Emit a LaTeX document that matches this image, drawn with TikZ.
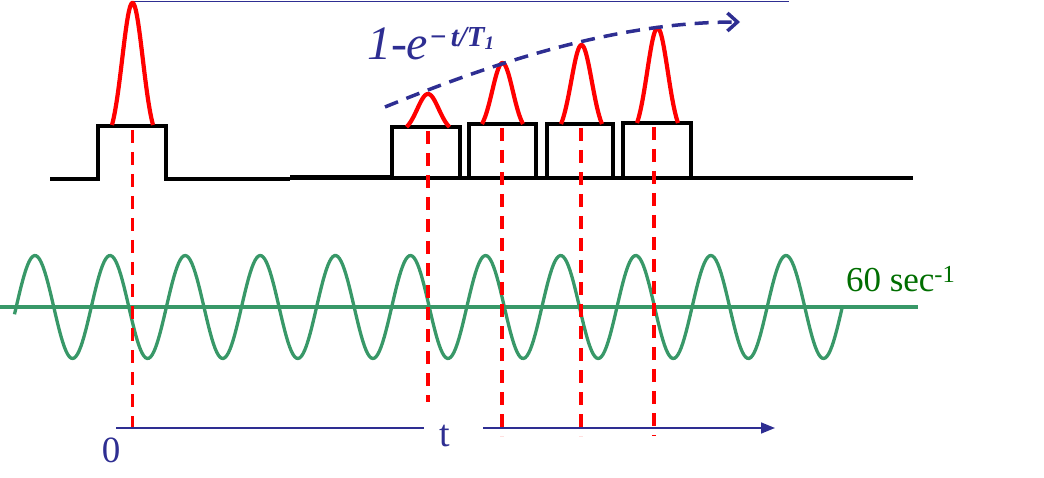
\documentclass[tikz,border=0pt]{standalone}
\usepackage{fontspec}
\setmainfont{Liberation Serif}
\usetikzlibrary{arrows.meta}
\definecolor{navy}{RGB}{46,46,146}
\definecolor{sinegreen}{RGB}{56,152,104}
\definecolor{labelgreen}{RGB}{0,110,0}
\newcommand\rfpulse[4]{% center x, base y, height, half width
  \draw[pulse] plot[domain=-#4:#4, samples=60, smooth]
    ({#1+\x}, {#2 - #3*(exp(-2*\x*\x/(#4*#4)) - exp(-2))/(1-exp(-2))});}
\begin{document}
\begin{tikzpicture}[x=1pt,y=-1pt,
  gate/.style={line width=4pt, black, line join=miter, line cap=butt},
  pulse/.style={line width=4.2pt, red},
  marker/.style={line width=3.2pt, red, dash pattern=on 13pt off 9pt},
  envelope/.style={line width=3.5pt, navy, dash pattern=on 14pt off 9pt,
    -{Straight Barb[length=10pt,width=18pt,line width=3.5pt]}},
  wave/.style={line width=3.3pt, sinegreen},
  axis/.style={line width=1.6pt, navy},
  lbl/.style={inner sep=0pt, outer sep=0pt}]
\useasboundingbox (0,0) rectangle (1044,478);

% top reference line
\coordinate (topL) at (132,1.5);
\coordinate (topR) at (789,1.5);
\draw[axis, line width=1.4pt] (topL) -- (topR);

% gate / baseline
\draw[gate] (50,179) -- (98,179) -- (98,126) -- (166,126) -- (166,179) -- (290,179);
\draw[gate, line width=5pt] (290,177.5) -- (392,177.5);
\draw[gate] (392,178) -- (913,178);
\draw[gate] (392,178) rectangle (460,127);
\draw[gate] (469,178) rectangle (536,124);
\draw[gate] (547,178) rectangle (613,124);
\draw[gate] (623,178) rectangle (691,123);

% RF pulses
\rfpulse{132.5}{125}{122}{20.5}
\rfpulse{428}{127}{33}{21.5}
\rfpulse{502.5}{124}{61}{20.5}
\rfpulse{581.5}{124}{79}{20.5}
\rfpulse{657.5}{123}{95}{20.5}

% envelope 1-exp(-t/T1)
\coordinate (envS) at (385,107);
\coordinate (envE) at (740,22);
\draw[envelope] (envS) .. controls (500,60) and (620,22) .. (envE);
\node[lbl, anchor=base west, navy] (eq) at (367,60)
  {{\fontsize{48}{48}\selectfont\itshape 1-e}{\fontsize{29}{29}\selectfont\bfseries\itshape\raisebox{13pt}{\kern1pt\char"2212\kern4pt t/T}}{\fontsize{19}{19}\selectfont\bfseries\itshape\raisebox{10pt}{\kern0pt 1}}};

% 60 Hz sine
\coordinate (hL) at (0,307);
\coordinate (hR) at (918,307);
\draw[wave] (hL) -- (hR);
\draw[wave] plot[domain=14.5:842, samples=500] (\x, {307 - 51.5*sin(4.79361*(\x-16.2))});
\node[lbl, anchor=base west, labelgreen, font=\fontsize{35}{35}\selectfont] (freq) at (846,292) {60 sec\textsuperscript{-1}};

% marker lines
\coordinate (m0t) at (132.5,130); \coordinate (m0b) at (132.5,436);
\coordinate (m1t) at (428,131);   \coordinate (m1b) at (428,402);
\coordinate (m2t) at (502,128);   \coordinate (m2b) at (502,436);
\coordinate (m3t) at (581,128);   \coordinate (m3b) at (581,436);
\coordinate (m4t) at (654,127);   \coordinate (m4b) at (654,436);
\foreach \m in {m0,m1,m2,m3,m4}{\draw[marker] (\m t) -- (\m b);}

% time axis
\node[lbl, anchor=base, navy, font=\fontsize{37}{37}\selectfont] (zero) at (111,462) {0};
\node[lbl, anchor=base, navy, font=\fontsize{38}{38}\selectfont] (tlab) at (445,446) {t};
\coordinate (a0) at (116,428);
\coordinate (a1) at (424,428);
\coordinate (a2) at (483,428);
\coordinate (a3) at (775,428);
\draw[axis] (a0) -- (a1);
\draw[axis, -{Triangle[length=14pt,width=11pt]}] (a2) -- (a3);
\end{tikzpicture}
\end{document}
